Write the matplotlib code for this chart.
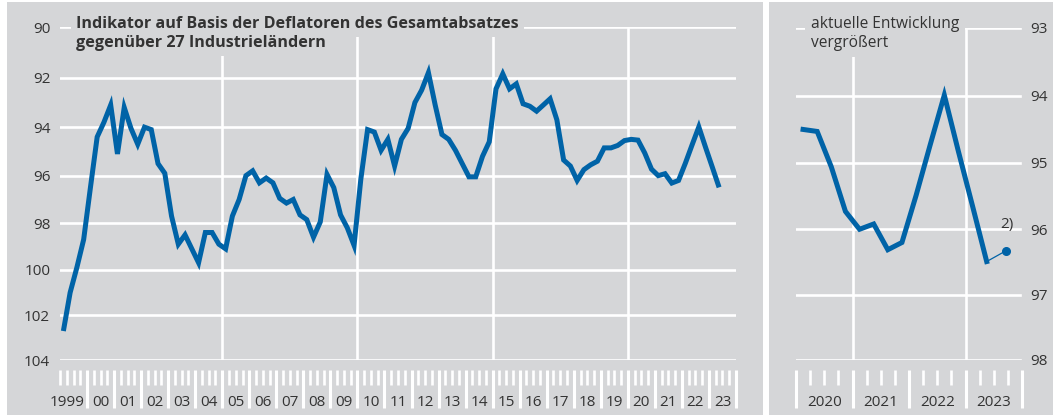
import matplotlib
matplotlib.use("Agg")
import matplotlib.pyplot as plt
from matplotlib.patches import Rectangle
from matplotlib.transforms import blended_transform_factory

plt.rcParams['font.family'] = ['Open Sans', 'DejaVu Sans']

# quarterly indicator values, 1999 Q1 .. 2023 Q2 (lower value = better competitiveness)
values = [
    102.7, 101.0, 99.9, 98.7,     # 1999
    96.5, 94.4, 93.8, 93.1,       # 2000
    95.1, 93.2, 94.05, 94.7,      # 2001
    94.0, 94.1, 95.5, 95.9,       # 2002
    97.7, 98.9, 98.5, 99.1,       # 2003
    99.7, 98.4, 98.4, 98.9,       # 2004
    99.1, 97.7, 97.0, 96.0,       # 2005
    95.8, 96.3, 96.1, 96.3,       # 2006
    96.95, 97.15, 97.0, 97.65,    # 2007
    97.85, 98.6, 97.95, 95.95,    # 2008
    96.5, 97.65, 98.2, 98.95,     # 2009
    96.15, 94.1, 94.2, 94.95,     # 2010
    94.5, 95.6, 94.5, 94.05,      # 2011
    93.0, 92.5, 91.8, 93.1,       # 2012
    94.3, 94.5, 94.95, 95.5,      # 2013
    96.05, 96.05, 95.2, 94.6,     # 2014
    92.45, 91.85, 92.45, 92.25,   # 2015
    93.05, 93.15, 93.35, 93.1,    # 2016
    92.85, 93.7, 95.35, 95.6,     # 2017
    96.2, 95.75, 95.55, 95.4,     # 2018
    94.85, 94.85, 94.75, 94.55,   # 2019
    94.5, 94.53, 95.06, 95.73,    # 2020
    96.0, 95.92, 96.31, 96.2,     # 2021
    95.49, 94.73, 93.99, 94.83,   # 2022
    95.65, 96.49,                 # 2023
]
first_year = 1999
latest_value = 96.33          # footnote 2): latest monthly value
latest_pos = 2023 + 8.5 / 12

main_yticks = [90, 92, 94, 96, 98, 100, 102, 104]
zoom_yticks = [93, 94, 95, 96, 97, 98]
main_year_labels = ['1999'] + ['%02d' % (y % 100) for y in range(2000, 2024)]
zoom_years = [2020, 2021, 2022, 2023]

title_main = ['Indikator auf Basis der Deflatoren des Gesamtabsatzes',
              'gegenüber 27 Industrieländern']
title_zoom = ['aktuelle Entwicklung', 'vergrößert']

BG = '#d5d6d8'
BLUE = '#0063a7'
TXT = '#333333'
W, H = 1053, 416


def fig_box(x0, y0, x1, y1):
    # pixel box (top-left origin) -> figure fraction rect
    return [x0 / W, 1 - y1 / H, (x1 - x0) / W, (y1 - y0) / H]


def fy(p):
    return 1 - p / H


def draw_time_ticks(fig, ax, long_pos, short_pos):
    tr = blended_transform_factory(ax.transData, fig.transFigure)
    for x in short_pos:
        ax.plot([x, x], [fy(370), fy(385)], color='white', lw=1.9,
                transform=tr, clip_on=False, solid_capstyle='butt')
    for x in long_pos:
        ax.plot([x, x], [fy(370), fy(408)], color='white', lw=2.2,
                transform=tr, clip_on=False, solid_capstyle='butt')


def boxed_title(fig, x, lines, **kw):
    # gray boxes behind each line (they cut the grid lines), text drawn on top
    for ln, base in zip(lines, (28, 47)):
        fig.text(x / W, fy(base), ln, color=BG, va='baseline', zorder=5,
                 bbox=dict(facecolor=BG, edgecolor='none', pad=4), **kw)
    for ln, base in zip(lines, (28, 47)):
        fig.text(x / W, fy(base), ln, color=TXT, va='baseline', zorder=7, **kw)


def main():
    fig = plt.figure(figsize=(W / 100, H / 100), dpi=100)
    fig.patch.set_facecolor('white')
    fig.patches.append(Rectangle((7 / W, 1 / H), (763 - 7) / W, (414 - 1) / H,
                                 transform=fig.transFigure, facecolor=BG,
                                 edgecolor='none', zorder=-10))
    fig.patches.append(Rectangle((769 / W, 1 / H), (W - 769) / W, (414 - 1) / H,
                                 transform=fig.transFigure, facecolor=BG,
                                 edgecolor='none', zorder=-10))

    xq = [first_year + i / 4 + 0.125 for i in range(len(values))]

    # ---- main panel
    ax = fig.add_axes(fig_box(60, 27, 736, 360))
    ax.set_facecolor('none')
    ax.set_yscale('log')
    ax.set_ylim(104, 90)
    ax.set_xlim(1999, 2024)
    for s in ax.spines.values():
        s.set_visible(False)
    for v in main_yticks:
        ax.axhline(v, color='white', lw=1.9, zorder=1)
    for x in [2005, 2010, 2015, 2020]:
        ax.axvline(x, color='white', lw=1.9, zorder=1)
    ax.plot(xq, values, color=BLUE, lw=3.6, zorder=3,
            solid_joinstyle='miter', solid_capstyle='butt')
    ax.yaxis.set_minor_locator(plt.NullLocator())
    ax.yaxis.set_minor_formatter(plt.NullFormatter())
    ax.set_yticks(main_yticks)
    ax.set_yticklabels([str(v) for v in main_yticks])
    ax.tick_params(axis='y', length=0, pad=7, labelsize=11, labelcolor=TXT)
    ax.set_xticks([])

    short = [1999.0] + [y + q for y in range(1999, 2024) for q in (0.25, 0.5, 0.75)]
    long = list(range(2000, 2025))
    draw_time_ticks(fig, ax, long, short)
    tr = blended_transform_factory(ax.transData, fig.transFigure)
    for i, lab in enumerate(main_year_labels):
        y = first_year + i
        if i == 0:
            ax.text(y + 0.93, fy(403), lab, ha='right', va='center', fontsize=11,
                    color=TXT, transform=tr, clip_on=False)
        else:
            ax.text(y + 0.5, fy(403), lab, ha='center', va='center', fontsize=11,
                    color=TXT, transform=tr, clip_on=False)

    boxed_title(fig, 76, title_main, fontsize=11.6, fontweight='bold')

    # ---- zoom panel
    az = fig.add_axes(fig_box(796, 28, 1022, 360))
    az.set_facecolor('none')
    az.set_yscale('log')
    az.set_ylim(98, 93)
    az.set_xlim(2020, 2024)
    for s in az.spines.values():
        s.set_visible(False)
    for v in zoom_yticks:
        az.plot([2020, 2023.96], [v, v], color='white', lw=1.9, zorder=1)
    for x in [2021, 2023]:
        az.axvline(x, color='white', lw=1.9, zorder=1)
    zx = [x for x in xq if x >= 2020]
    zv = values[len(values) - len(zx):]
    az.plot(zx, zv, color=BLUE, lw=3.6, zorder=3, solid_joinstyle='miter')
    az.plot([zx[-1], latest_pos], [zv[-1], latest_value], color=BLUE, lw=0.9, zorder=3)
    az.plot([latest_pos], [latest_value], 'o', color=BLUE, ms=5.5, zorder=4)
    az.text(latest_pos + 0.02, 95.93, '2)', ha='center', va='center', fontsize=11,
            color=TXT)
    az.yaxis.tick_right()
    az.yaxis.set_minor_locator(plt.NullLocator())
    az.yaxis.set_minor_formatter(plt.NullFormatter())
    az.set_yticks(zoom_yticks)
    az.set_yticklabels([str(v) for v in zoom_yticks])
    az.tick_params(axis='y', length=0, pad=6, labelsize=11, labelcolor=TXT)
    az.set_xticks([])

    short = [y + q for y in zoom_years for q in (0.25, 0.5, 0.75)]
    long = list(range(2020, 2025))
    draw_time_ticks(fig, az, long, short)
    trz = blended_transform_factory(az.transData, fig.transFigure)
    for y in zoom_years:
        az.text(y + 0.5, fy(403), str(y), ha='center', va='center', fontsize=11,
                color=TXT, transform=trz, clip_on=False)

    boxed_title(fig, 811, title_zoom, fontsize=11.2)

    fig.savefig('out.png', dpi=100, facecolor=fig.get_facecolor())


if __name__ == '__main__':
    main()
